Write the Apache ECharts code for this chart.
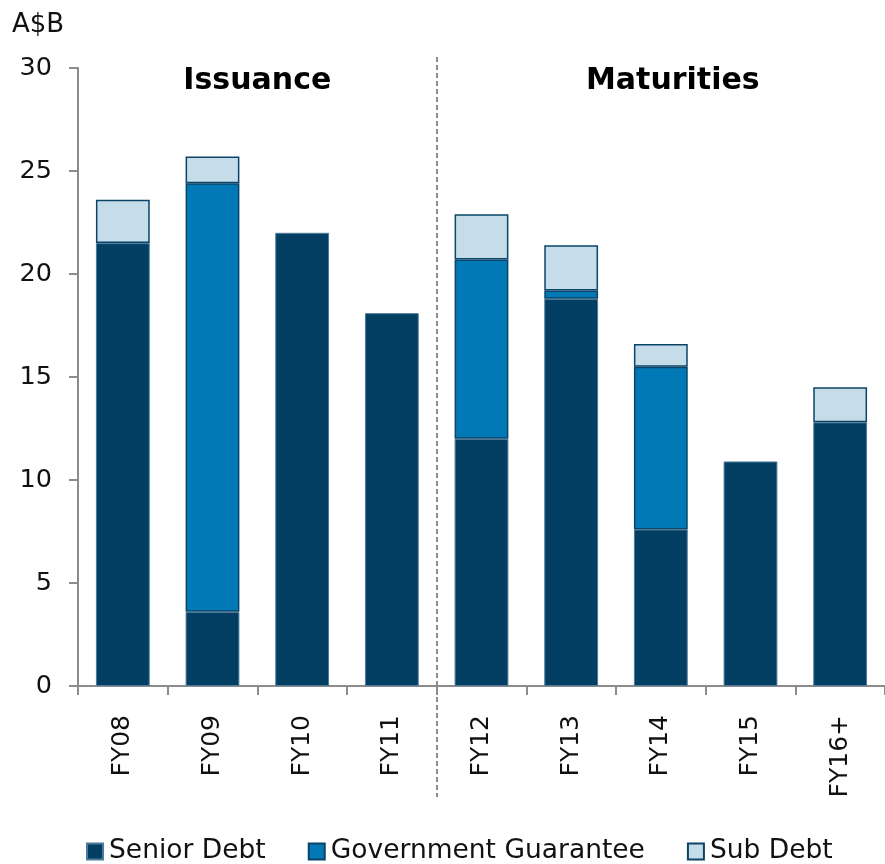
<!DOCTYPE html>
<html>
<head>
<meta charset="utf-8">
<script src="https://cdn.jsdelivr.net/npm/echarts@6/dist/echarts.min.js"></script>
<style>html,body{margin:0;padding:0;background:#fff;}#c{width:885px;height:864px;}</style>
</head>
<body>
<div id="c"></div>
<script>
const categories = ['FY08','FY09','FY10','FY11','FY12','FY13','FY14','FY15','FY16+'];
const seniorDebt = [21.5, 3.6, 22.0, 18.1, 12.0, 18.8, 7.6, 10.9, 12.8];
const govGuarantee = [0, 20.8, 0, 0, 8.7, 0.4, 7.9, 0, 0];
const subDebt = [2.1, 1.3, 0, 0, 2.2, 2.2, 1.1, 0, 1.7];
const yTicks = [0, 5, 10, 15, 20, 25, 30];
const sectionTitles = ['Issuance', 'Maturities'];

const FONT = '"DejaVu Sans", Verdana, sans-serif';
const chart = echarts.init(document.getElementById('c'), null, {renderer: 'canvas'});

function zeroToNull(a){ return a.map(v => v === 0 ? null : v); }

const option = {
  animation: false,
  backgroundColor: '#ffffff',
  textStyle: {fontFamily: FONT},
  grid: {left: 78, top: 68, width: 811, height: 618, containLabel: false},
  legend: {
    bottom: -6, left: 81,
    icon: 'rect', itemWidth: 16, itemHeight: 16, itemGap: 42,
    textStyle: {fontFamily: FONT, fontSize: 26.5, color: '#111', padding: [0, 0, 0, 1]},
    data: ['Senior Debt', 'Government Guarantee', 'Sub Debt']
  },
  xAxis: {
    type: 'category',
    data: categories,
    axisLine: {lineStyle: {color: '#8c8c8c', width: 2}},
    axisTick: {show: true, length: 9, alignWithLabel: false, lineStyle: {color: '#8c8c8c', width: 2}},
    axisLabel: {rotate: 90, fontSize: 25, color: '#111', margin: 29, fontFamily: FONT}
  },
  yAxis: {
    type: 'value', min: yTicks[0], max: yTicks[yTicks.length-1], interval: 5,
    name: 'A$B', nameLocation: 'end', nameGap: 30,
    nameTextStyle: {fontSize: 26, color: '#111', fontFamily: FONT, align: 'left', padding: [0, 0, 0, -66]},
    splitLine: {show: false},
    axisLine: {show: true, lineStyle: {color: '#8c8c8c', width: 2}},
    axisTick: {show: true, length: 9, lineStyle: {color: '#8c8c8c', width: 2}},
    axisLabel: {fontSize: 25.5, color: '#111', margin: 26, fontFamily: FONT}
  },
  series: [
    {name: 'Senior Debt', type: 'bar', stack: 'a', barWidth: '60%', data: seniorDebt,
     itemStyle: {color: '#023F62', borderColor: '#4d7b99', borderWidth: 1}},
    {name: 'Government Guarantee', type: 'bar', stack: 'a', barWidth: '60%', data: zeroToNull(govGuarantee),
     itemStyle: {color: '#0079B6', borderColor: '#0A4468', borderWidth: 1.5}},
    {name: 'Sub Debt', type: 'bar', stack: 'a', barWidth: '60%', data: zeroToNull(subDebt),
     itemStyle: {color: '#C5DDE9', borderColor: '#0A4468', borderWidth: 1.5}}
  ]
};
chart.setOption(option);

// divider between FY11 and FY12 plus section titles, positioned through the axis scale
const p11 = chart.convertToPixel({xAxisIndex: 0}, 'FY11');
const p12 = chart.convertToPixel({xAxisIndex: 0}, 'FY12');
const divX = Math.round((p11 + p12) / 2);
const p0 = chart.convertToPixel({xAxisIndex: 0}, categories[0]);
const pLast = chart.convertToPixel({xAxisIndex: 0}, categories[categories.length-1]);
const yTop = chart.convertToPixel({yAxisIndex: 0}, 30);
const yZero = chart.convertToPixel({yAxisIndex: 0}, 0);
const leftCenter = (p0 + p11) / 2;
const rightCenter = (p12 + pLast) / 2 + 12;
chart.setOption({
  graphic: [
    {type: 'line', shape: {x1: divX, y1: yTop - 11, x2: divX, y2: yZero + 111},
     style: {stroke: '#8c8c8c', lineWidth: 2, lineDash: [5, 3]}, z: 10},
    {type: 'text', x: leftCenter, y: yTop + 13, style: {text: sectionTitles[0], font: 'bold 30px ' + FONT, fill: '#000', align: 'center', verticalAlign: 'middle'}},
    {type: 'text', x: rightCenter, y: yTop + 13, style: {text: sectionTitles[1], font: 'bold 30px ' + FONT, fill: '#000', align: 'center', verticalAlign: 'middle'}}
  ]
});
</script>
</body>
</html>
